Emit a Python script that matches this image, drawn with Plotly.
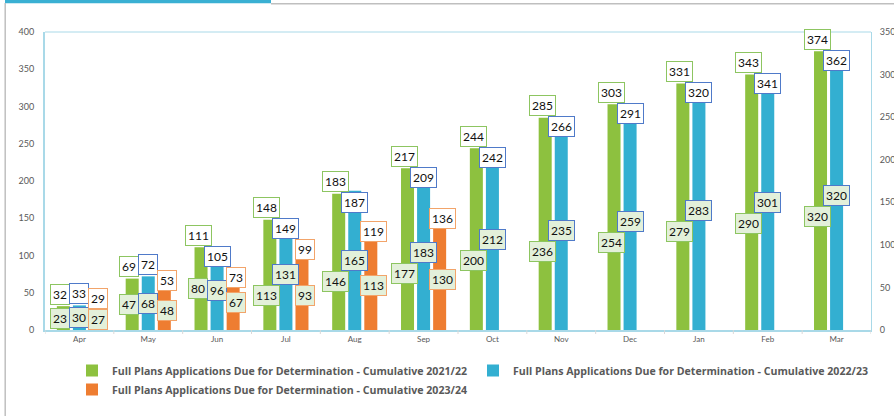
import plotly.graph_objects as go

months = ["Apr", "May", "Jun", "Jul", "Aug", "Sep", "Oct", "Nov", "Dec", "Jan", "Feb", "Mar"]
cum_2122 = [32, 69, 111, 148, 183, 217, 244, 285, 303, 331, 343, 374]
cum_2223 = [33, 72, 105, 149, 187, 209, 242, 266, 291, 320, 341, 362]
cum_2324 = [29, 53, 73, 99, 119, 136, None, None, None, None, None, None]
inner_2122 = [23, 47, 80, 113, 146, 177, 200, 236, 254, 279, 290, 320]
inner_2223 = [30, 68, 96, 131, 165, 183, 212, 235, 259, 283, 301, 320]
inner_2324 = [27, 48, 67, 93, 113, 130, None, None, None, None, None, None]
names = [
    "Full Plans Applications Due for Determination - Cumulative 2021/22",
    "Full Plans Applications Due for Determination - Cumulative 2022/23",
    "Full Plans Applications Due for Determination - Cumulative 2023/24",
]
left_ticks = [0, 50, 100, 150, 200, 250, 300, 350, 400]
right_ticks = [0, 50, 100, 150, 200, 250, 300, 350]

colors = ["#8DC13F", "#33AFD1", "#EE7D31"]
label_borders = ["#8DC561", "#4F7AC9", "#F2A46A"]
inner_fill = "#E3F0DA"
W, H = 894, 416
L, R, T, B = 45, 871, 32, 330
YMAX = 400
BARGAP = 0.30
GROUPGAP = 0.19
LABEL_FONT = dict(family="Lato, Open Sans, sans-serif", size=12, color="#111111")

fig = go.Figure()
series = [cum_2122, cum_2223, cum_2324]
inners = [inner_2122, inner_2223, inner_2324]
x_idx = list(range(len(months)))
for k in range(3):
    fig.add_trace(go.Bar(
        x=x_idx, y=series[k], name=names[k],
        marker=dict(color=colors[k], line=dict(width=0)),
        hoverinfo="skip",
    ))
fig.add_trace(go.Scatter(x=[0], y=[0], yaxis="y2", mode="markers",
                         marker=dict(opacity=0), showlegend=False, hoverinfo="skip"))

# ---- label placement (pixel space, derived from data) ----
slot = (1 - BARGAP) / 3
unit = (B - T) / YMAX          # px per value unit
slot_px = slot * (R - L) / len(months)
LH = 20                         # label box height
X_SPREAD = [-3, 0, 3]


def width(v):
    return 7 * len(str(v)) + 6


def collide(a, b):
    return abs(a[0] - b[0]) < (a[2] + b[2]) / 2 - 2 and abs(a[1] - b[1]) < LH


ann = []
ylow = B - 12
for i in range(len(months)):
    tops, ins = {}, {}
    for k in range(3):
        v = series[k][i]
        if v is None:
            continue
        xc = (k - 1) * slot_px + X_SPREAD[k]
        ytop = v * unit
        tops[k] = [xc, ytop + (10 if k == 2 else 12), width(v)]
        ins[k] = [xc, ytop / 2, width(inners[k][i])]
    if 1 in tops and collide(tops[0], tops[1]):
        tops[1][1] = tops[0][1] - (LH + 1)
    if 2 in tops and collide(tops[1], tops[2]):
        tops[2][1] = tops[1][1] - (LH + 1)
    if collide(ins[0], ins[1]):
        ins[0][1] = ins[1][1] - (LH + 1)
        if ins[0][1] < B - ylow:
            ins[0][1] = B - ylow
            ins[1][1] = ins[0][1] + LH + 1
    if 2 in ins and collide(ins[1], ins[2]):
        ins[2][1] = max(ins[1][1] - (LH + 1), B - ylow)
    for k in tops:
        v = series[k][i]
        base = v * unit
        for lab, fill, txt in ((tops[k], "white", series[k][i]), (ins[k], inner_fill, inners[k][i])):
            ann.append(dict(x=i, y=v, xref="x", yref="y", text=str(txt), showarrow=False,
                            xanchor="center", yanchor="middle",
                            xshift=lab[0], yshift=lab[1] - base,
                            font=LABEL_FONT, bgcolor=fill, bordercolor=label_borders[k],
                            borderwidth=1, borderpad=2))


def px(x):
    return (x - L) / (R - L)


def py(y):
    return (B - y) / (B - T)


shapes = [
    dict(type="rect", xref="paper", yref="paper", x0=px(5), x1=px(271), y0=py(0), y1=py(3.2),
         fillcolor="#3AB0D3", line=dict(width=0), layer="above"),
    dict(type="line", xref="paper", yref="paper", x0=px(271), x1=px(W), y0=py(3.8), y1=py(3.8),
         line=dict(color="#BFBFBF", width=1.5)),
    dict(type="line", xref="paper", yref="paper", x0=px(5.2), x1=px(5.2), y0=py(3), y1=py(H),
         line=dict(color="#BFBFBF", width=1.5)),
    dict(type="line", xref="paper", yref="paper", x0=0, x1=1, y0=1, y1=1,
         line=dict(color="#A9D9E8", width=1)),
]
for i in range(13):
    shapes.append(dict(type="line", xref="x", yref="paper", x0=i - 0.5, x1=i - 0.5,
                       y0=0, y1=py(334), line=dict(color="#D9D9D9", width=1)))

fig.update_layout(
    width=W, height=H,
    margin=dict(l=L, r=W - R, t=T, b=H - B, autoexpand=False),
    paper_bgcolor="white", plot_bgcolor="white",
    barmode="group", bargap=BARGAP, bargroupgap=GROUPGAP,
    font=dict(family="Lato, Open Sans, sans-serif", color="#595959"),
    xaxis=dict(tickmode="array", tickvals=x_idx, ticktext=months, range=[-0.5, 11.5],
               showline=True, linecolor="#A9D9E8", linewidth=2, mirror=False,
               ticks="", tickfont=dict(size=8, color="#595959"), showgrid=False, zeroline=False),
    yaxis=dict(range=[0, YMAX], tickvals=left_ticks, showgrid=False, zeroline=False,
               showline=True, linecolor="#A9D9E8", linewidth=2,
               tickfont=dict(size=9, color="#595959"), ticks="", ticklabelstandoff=7),
    yaxis2=dict(range=[0, 350], tickvals=right_ticks, overlaying="y", side="right",
                showgrid=False, zeroline=False, showline=True, linecolor="#A9D9E8", linewidth=1,
                tickfont=dict(size=9, color="#595959"), ticks="", ticklabelstandoff=6),
    legend=dict(orientation="h", xref="container", yref="container",
                x=72 / W, y=1 - 356 / H, xanchor="left", yanchor="top",
                entrywidth=356, itemwidth=30, traceorder="normal", tracegroupgap=0,
                font=dict(family="Open Sans, sans-serif", size=10.6, color="#595959", weight="bold")),
    annotations=ann,
    shapes=shapes,
    showlegend=True,
)

fig.write_html("out.html", config={"displayModeBar": False},
               post_script="document.body.style.margin='0';document.body.style.padding='0';")
